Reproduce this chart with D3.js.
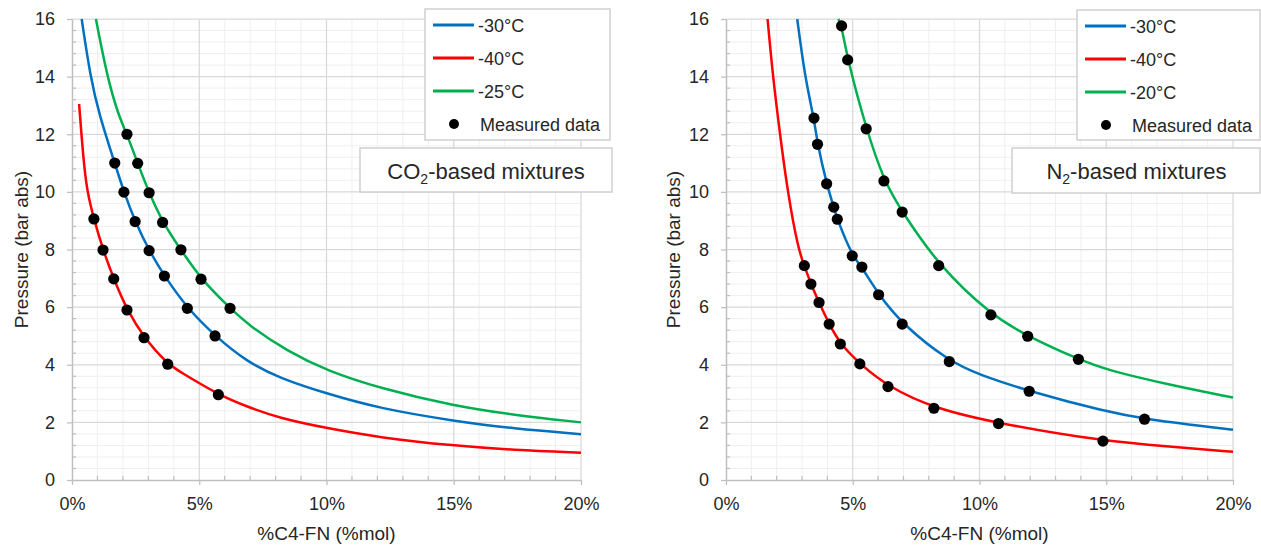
<!DOCTYPE html>
<html><head><meta charset="utf-8">
<script src="https://cdn.jsdelivr.net/npm/d3@7"></script>
<style>
body{margin:0;background:#fff}
svg{display:block}
text{font-family:"Liberation Sans",Arial,Helvetica,sans-serif;fill:#262626}
</style>
</head><body>
<svg id="c" width="1261" height="545"></svg>
<script>
// ---------- tick labels ----------
const xTickValues = [0, 5, 10, 15, 20];
const xTickLabels = ["0%", "5%", "10%", "15%", "20%"];
const yTickValues = [0, 2, 4, 6, 8, 10, 12, 14, 16];
const yTickLabels = ["0", "2", "4", "6", "8", "10", "12", "14", "16"];

// ---------- CO2-based mixtures : model curves (x = %mol, p = bar abs) ----------
const co2Curve30X = [0.38, 0.72, 1.07, 1.68, 2.04, 2.48, 3.03, 3.63, 4.53, 5.62, 6.86, 8.17, 10, 12.1, 15, 17.34, 20];
const co2Curve30P = [16, 14, 12.67, 11.0, 9.99, 8.97, 7.96, 7.08, 5.96, 5.0, 4.11, 3.53, 3.0, 2.48, 2.05, 1.78, 1.59];
const co2Curve40X = [0.28, 0.37, 0.48, 0.6, 0.86, 1.22, 1.64, 2.16, 2.83, 3.76, 4.24, 5.75, 6.86, 8.17, 10, 12.1, 15, 17.34, 20];
const co2Curve40P = [13.05, 12, 10.88, 10, 9.06, 7.98, 6.98, 5.9, 4.94, 4.02, 3.76, 2.96, 2.55, 2.14, 1.8, 1.47, 1.19, 1.04, 0.95];
const co2Curve25X = [0.94, 1.38, 1.82, 2.16, 2.58, 3.03, 3.56, 4.28, 5.07, 6.21, 7.0, 8.5, 10, 12.1, 15, 17.34, 20];
const co2Curve25P = [16, 14, 12.67, 12.0, 10.99, 9.97, 8.94, 7.99, 6.97, 5.96, 5.33, 4.45, 3.8, 3.18, 2.57, 2.26, 2.0];
// CO2 measured data
const co2MeasX = [0.86, 1.22, 1.64, 2.16, 2.83, 3.76, 5.75,
                  1.68, 2.04, 2.48, 3.03, 3.63, 4.53, 5.62,
                  2.16, 2.58, 3.03, 3.56, 4.28, 5.07, 6.21];
const co2MeasP = [9.06, 7.98, 6.98, 5.9, 4.94, 4.02, 2.96,
                  11.0, 9.99, 8.97, 7.96, 7.08, 5.96, 5.0,
                  12.0, 10.99, 9.97, 8.94, 7.99, 6.97, 5.96];

// ---------- N2-based mixtures : model curves ----------
const n2Curve30X = [2.81, 3.11, 3.47, 3.61, 3.97, 4.25, 4.39, 4.98, 5.36, 6.02, 6.95, 8.81, 10, 11.96, 15, 16.51, 20];
const n2Curve30P = [16, 14, 12.56, 11.65, 10.28, 9.47, 9.05, 7.78, 7.39, 6.43, 5.41, 4.11, 3.65, 3.08, 2.37, 2.11, 1.74];
const n2Curve40X = [1.64, 1.85, 2.13, 2.43, 2.85, 3.09, 3.35, 3.67, 4.07, 4.51, 5.28, 6.39, 8.2, 10.75, 14.87, 17.5, 20];
const n2Curve40P = [16, 14, 12, 10, 8, 7.44, 6.8, 6.16, 5.41, 4.72, 4.03, 3.24, 2.49, 1.96, 1.35, 1.16, 0.98];
const n2Curve20X = [4.43, 4.56, 4.80, 5.53, 6.23, 6.95, 8.39, 10.45, 11.90, 13.90, 15, 17.5, 20];
const n2Curve20P = [16, 15.76, 14.58, 12.19, 10.38, 9.30, 7.44, 5.73, 4.99, 4.19, 3.82, 3.3, 2.86];
// N2 measured data
const n2MeasX = [3.09, 3.35, 3.67, 4.07, 4.51, 5.28, 6.39, 8.2, 10.75, 14.87,
                 3.47, 3.61, 3.97, 4.25, 4.39, 4.98, 5.36, 6.02, 6.95, 8.81, 11.96, 16.51,
                 4.56, 4.80, 5.53, 6.23, 6.95, 8.39, 10.45, 11.90, 13.90];
const n2MeasP = [7.44, 6.8, 6.16, 5.41, 4.72, 4.03, 3.24, 2.49, 1.96, 1.35,
                 12.56, 11.65, 10.28, 9.47, 9.05, 7.78, 7.39, 6.43, 5.41, 4.11, 3.08, 2.11,
                 15.76, 14.58, 12.19, 10.38, 9.30, 7.44, 5.73, 4.99, 4.19];

// ---------- legends / labels ----------
const co2Legend = ["-30°C", "-40°C", "-25°C", "Measured data"];
const n2Legend = ["-30°C", "-40°C", "-20°C", "Measured data"];
const seriesColors = ["#0070c0", "#ff0000", "#00b050"];
const xTitle = "%C4-FN (%mol)";
const yTitle = "Pressure (bar abs)";

const zip = (xs, ps) => xs.map((x, i) => ({x: x, p: ps[i]}));

const svg = d3.select("#c");

function drawChart(cfg) {
  const x = d3.scaleLinear().domain([0, 20]).range([cfg.x0, cfg.x1]);
  const y = d3.scaleLinear().domain([0, 16]).range([cfg.y0, cfg.y1]);
  const g = svg.append("g");

  const xMinor = d3.range(0, 20.001, 1).filter(v => v % 5 !== 0);
  const yMinor = d3.range(0, 16.001, 0.4).map(v => +v.toFixed(1)).filter(v => Math.abs(v / 2 - Math.round(v / 2)) > 1e-6);

  // minor grid
  g.append("g").selectAll("line").data(xMinor).join("line")
    .attr("x1", d => x(d)).attr("x2", d => x(d)).attr("y1", y(0)).attr("y2", y(16))
    .attr("stroke", "#efefef").attr("stroke-width", 1);
  g.append("g").selectAll("line").data(yMinor).join("line")
    .attr("y1", d => y(d)).attr("y2", d => y(d)).attr("x1", x(0)).attr("x2", x(20))
    .attr("stroke", "#efefef").attr("stroke-width", 1);
  // major grid
  g.append("g").selectAll("line").data(xTickValues.slice(1)).join("line")
    .attr("x1", d => x(d)).attr("x2", d => x(d)).attr("y1", y(0)).attr("y2", y(16))
    .attr("stroke", "#d9d9d9").attr("stroke-width", 1.25);
  g.append("g").selectAll("line").data(yTickValues.slice(1)).join("line")
    .attr("y1", d => y(d)).attr("y2", d => y(d)).attr("x1", x(0)).attr("x2", x(20))
    .attr("stroke", "#d9d9d9").attr("stroke-width", 1.25);

  // axes
  const xAxis = d3.axisBottom(x).tickValues(xTickValues).tickFormat((d, i) => xTickLabels[i])
    .tickSizeInner(5).tickSizeOuter(0).tickPadding(12);
  const yAxis = d3.axisLeft(y).tickValues(yTickValues).tickFormat((d, i) => yTickLabels[i])
    .tickSizeInner(5).tickSizeOuter(0).tickPadding(12);
  const gx = g.append("g").attr("transform", `translate(0,${cfg.y0})`).call(xAxis);
  const gy = g.append("g").attr("transform", `translate(${cfg.x0},0)`).call(yAxis);
  [gx, gy].forEach(a => {
    a.select(".domain").attr("stroke", "#bfbfbf").attr("stroke-width", 1.5);
    a.selectAll(".tick line").attr("stroke", "#bfbfbf").attr("stroke-width", 1.25);
    a.selectAll(".tick text").attr("font-size", 18).attr("fill", "#262626")
      .style("font-family", '"Liberation Sans",Arial,sans-serif');
  });
  // minor inside ticks
  g.append("g").selectAll("line").data(xMinor).join("line")
    .attr("x1", d => x(d)).attr("x2", d => x(d)).attr("y1", y(0)).attr("y2", y(0) - 4)
    .attr("stroke", "#bfbfbf").attr("stroke-width", 1.25);
  g.append("g").selectAll("line").data(yMinor).join("line")
    .attr("y1", d => y(d)).attr("y2", d => y(d)).attr("x1", x(0)).attr("x2", x(0) + 4)
    .attr("stroke", "#bfbfbf").attr("stroke-width", 1.25);

  // axis titles
  g.append("text").attr("x", (cfg.x0 + cfg.x1) / 2).attr("y", 540).attr("text-anchor", "middle")
    .attr("font-size", 19).text(xTitle);
  g.append("text").attr("transform", `translate(${cfg.yTitleX},${(cfg.y0 + cfg.y1) / 2}) rotate(-90)`)
    .attr("text-anchor", "middle").attr("font-size", 19).text(yTitle);

  // curves
  const line = d3.line().x(d => x(d.x)).y(d => y(d.p)).curve(d3.curveBasis);
  cfg.curves.forEach((c, i) => {
    g.append("path").attr("d", line(c)).attr("fill", "none")
      .attr("stroke", seriesColors[i]).attr("stroke-width", 2.5);
  });
  // measured points
  g.append("g").selectAll("circle").data(cfg.points).join("circle")
    .attr("cx", d => x(d.x)).attr("cy", d => y(d.p)).attr("r", 5.6).attr("fill", "#000");

  // legend
  const L = cfg.legend;
  const lg = g.append("g");
  lg.append("rect").attr("x", L.x).attr("y", L.y).attr("width", L.w).attr("height", L.h)
    .attr("fill", "#fff").attr("stroke", "#d0d0d0").attr("stroke-width", 1.5);
  cfg.legendLabels.forEach((lab, i) => {
    const cy = L.y + 16 + i * 33;
    if (i < 3) {
      lg.append("line").attr("x1", L.x + 8).attr("x2", L.x + 49).attr("y1", cy).attr("y2", cy)
        .attr("stroke", seriesColors[i]).attr("stroke-width", 3);
      lg.append("text").attr("x", L.x + 53).attr("y", cy + 6.5).attr("font-size", 18).text(lab);
    } else {
      lg.append("circle").attr("cx", L.x + 29).attr("cy", cy).attr("r", 5).attr("fill", "#000");
      lg.append("text").attr("x", L.x + 55).attr("y", cy + 6.5).attr("font-size", 18).text(lab);
    }
  });

  // title box
  const T = cfg.title;
  g.append("rect").attr("x", T.x).attr("y", T.y).attr("width", T.w).attr("height", T.h)
    .attr("fill", "#fff").attr("stroke", "#d0d0d0").attr("stroke-width", 1.5);
  const tt = g.append("text").attr("x", T.cx).attr("y", T.y + 31).attr("text-anchor", "middle")
    .attr("font-size", 22);
  tt.append("tspan").text(T.pre);
  tt.append("tspan").attr("font-size", 14).attr("dy", 5).text("2");
  tt.append("tspan").attr("dy", -5).text("-based mixtures");
}

drawChart({
  x0: 72, x1: 581, y0: 480, y1: 19, yTitleX: 28,
  curves: [zip(co2Curve30X, co2Curve30P), zip(co2Curve40X, co2Curve40P), zip(co2Curve25X, co2Curve25P)],
  points: zip(co2MeasX, co2MeasP),
  legend: {x: 425, y: 9, w: 185, h: 131},
  legendLabels: co2Legend,
  title: {x: 360, y: 148, w: 252, h: 44, cx: 486, pre: "CO"}
});
drawChart({
  x0: 726, x1: 1233, y0: 480, y1: 19, yTitleX: 680,
  curves: [zip(n2Curve30X, n2Curve30P), zip(n2Curve40X, n2Curve40P), zip(n2Curve20X, n2Curve20P)],
  points: zip(n2MeasX, n2MeasP),
  legend: {x: 1077, y: 10, w: 183, h: 130},
  legendLabels: n2Legend,
  title: {x: 1012, y: 148, w: 248, h: 45, cx: 1136.5, pre: "N"}
});
</script>
</body></html>
